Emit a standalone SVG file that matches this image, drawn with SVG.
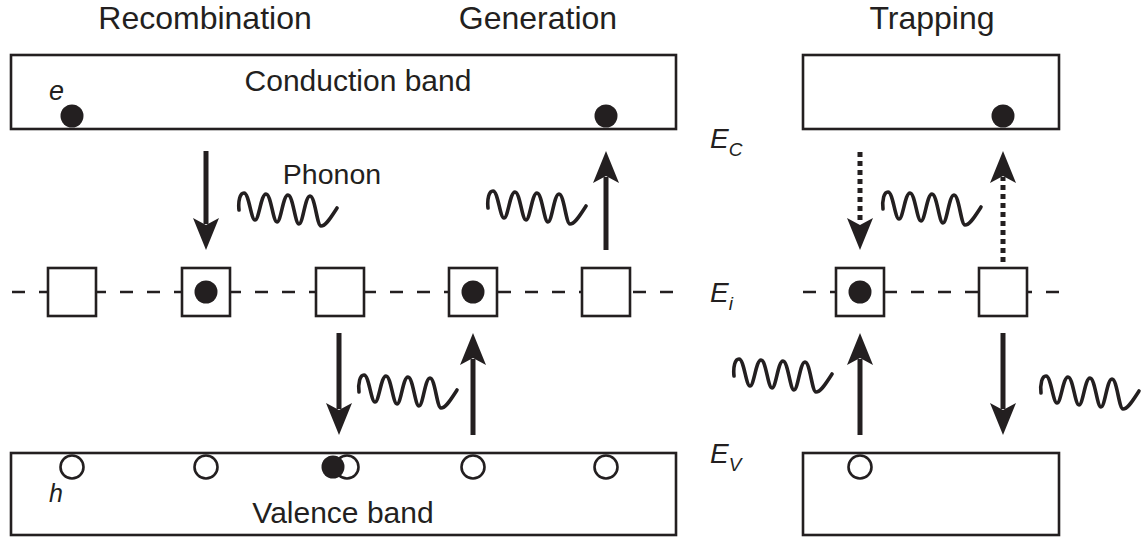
<svg xmlns="http://www.w3.org/2000/svg" width="1148" height="538" viewBox="0 0 1148 538">
  <style>
    .band { fill: #ffffff; stroke: #231f20; stroke-width: 2.6; }
    .level { fill: none; stroke: #231f20; stroke-width: 2.4; stroke-dasharray: 13 14; }
    .trap { fill: #ffffff; stroke: #231f20; stroke-width: 2.6; }
    .el { fill: #231f20; }
    .hole { fill: #ffffff; stroke: #231f20; stroke-width: 2.6; }
    .arrow { stroke: #231f20; stroke-width: 5; fill: none; marker-end: url(#head); }
    .dotted { stroke-dasharray: 5 4; }
    .wave { fill: none; stroke: #231f20; stroke-width: 3.6; stroke-linecap: round; stroke-linejoin: round; }
    .title { font-family: "Liberation Sans", Arial, sans-serif; font-size: 32px; fill: #231f20; text-anchor: middle; }
    .label { font-family: "Liberation Sans", Arial, sans-serif; font-size: 30px; fill: #231f20; text-anchor: middle; }
    .small { font-family: "Liberation Sans", Arial, sans-serif; font-size: 28.5px; fill: #231f20; text-anchor: middle; }
    .ital { font-family: "Liberation Sans", Arial, sans-serif; font-style: italic; fill: #231f20; }
  </style>
  <defs>
    <marker id="head" viewBox="0 -14 34 28" refX="6" refY="0" markerWidth="34" markerHeight="28" markerUnits="userSpaceOnUse" orient="auto">
      <path d="M0,-13 L32,0 L0,13 L7,0 Z" fill="#231f20"/>
    </marker>
    <!-- phonon squiggle, about 100 x 35 -->
    <path id="phonon" class="wave" d="M1,18 C0,9 2,1 6,1 C11,1 13,28 17,28 C21,28 23,2 28,2 C33,2 35,30 39,30 C43,30 45,3 50,3 C55,3 57,32 61,32 C65,32 67,4 72,4 C77,4 79,34 83,34 C88,34 93,25 99,16"/>
  </defs>

  <!-- column titles -->
  <g id="titles">
    <text class="title" x="205" y="29">Recombination</text>
    <text class="title" x="538" y="29">Generation</text>
    <text class="title" x="932" y="29">Trapping</text>
  </g>

  <!-- conduction band, left panel -->
  <g id="cb-left">
    <rect class="band" x="11" y="55" width="665" height="74"/>
    <text class="label" x="358" y="91">Conduction band</text>
    <text class="ital" x="49" y="100" font-size="27">e</text>
    <circle class="el" cx="72" cy="116" r="11.5"/>
    <circle class="el" cx="606" cy="116" r="11.5"/>
  </g>

  <!-- conduction band, trapping panel -->
  <g id="cb-right">
    <rect class="band" x="803" y="55" width="256" height="74"/>
    <circle class="el" cx="1003" cy="116" r="11.5"/>
  </g>

  <!-- valence band, left panel -->
  <g id="vb-left">
    <rect class="band" x="11" y="453" width="665" height="82"/>
    <text class="label" x="343" y="523">Valence band</text>
    <text class="ital" x="49" y="502" font-size="25">h</text>
    <circle class="hole" cx="72" cy="467" r="11.5"/>
    <circle class="hole" cx="206" cy="467" r="11.5"/>
    <circle class="hole" cx="347" cy="467" r="11.5"/>
    <circle class="el" cx="333" cy="467" r="11.5"/>
    <circle class="hole" cx="473" cy="467" r="11.5"/>
    <circle class="hole" cx="606" cy="467" r="11.5"/>
  </g>

  <!-- valence band, trapping panel -->
  <g id="vb-right">
    <rect class="band" x="803" y="453" width="256" height="82"/>
    <circle class="hole" cx="860" cy="467" r="11.5"/>
  </g>

  <!-- intrinsic level -->
  <g id="ei-level">
    <line class="level" x1="12" y1="292" x2="676" y2="292"/>
    <line class="level" x1="803" y1="292" x2="1059" y2="292"/>
  </g>

  <!-- trap states -->
  <g id="trap-1"><rect class="trap" x="48" y="268" width="48" height="48"/></g>
  <g id="trap-2"><rect class="trap" x="182" y="268" width="48" height="48"/><circle class="el" cx="206" cy="292" r="11.5"/></g>
  <g id="trap-3"><rect class="trap" x="316" y="268" width="48" height="48"/></g>
  <g id="trap-4"><rect class="trap" x="449" y="268" width="48" height="48"/><circle class="el" cx="473" cy="292" r="11.5"/></g>
  <g id="trap-5"><rect class="trap" x="582" y="268" width="48" height="48"/></g>
  <g id="trap-6"><rect class="trap" x="836" y="268" width="48" height="48"/><circle class="el" cx="860" cy="292" r="11.5"/></g>
  <g id="trap-7"><rect class="trap" x="979" y="268" width="48" height="48"/></g>

  <!-- energy labels -->
  <g id="energy-labels">
    <text class="ital" x="710" y="148" font-size="28">E<tspan font-size="19" dy="8">C</tspan></text>
    <text class="ital" x="710" y="302" font-size="28">E<tspan font-size="19" dy="8">i</tspan></text>
    <text class="ital" x="710" y="463" font-size="28">E<tspan font-size="19" dy="8">V</tspan></text>
  </g>

  <!-- phonons -->
  <g id="phonons">
    <text class="small" x="332" y="184">Phonon</text>
    <use href="#phonon" x="238" y="192"/>
    <use href="#phonon" x="358" y="374"/>
    <use href="#phonon" x="487" y="190"/>
    <use href="#phonon" x="882" y="191"/>
    <use href="#phonon" x="733" y="358"/>
    <use href="#phonon" x="1040" y="375"/>
  </g>

  <!-- transitions -->
  <g id="connectors">
    <line class="arrow" x1="206" y1="151" x2="206" y2="224"/>
    <line class="arrow" x1="339" y1="333" x2="339" y2="409"/>
    <line class="arrow" x1="473" y1="435" x2="473" y2="359"/>
    <line class="arrow" x1="606" y1="250" x2="606" y2="177"/>
    <line class="arrow dotted" x1="860" y1="152" x2="860" y2="224"/>
    <line class="arrow dotted" x1="1003" y1="262" x2="1003" y2="177"/>
    <line class="arrow" x1="860" y1="435" x2="860" y2="359"/>
    <line class="arrow" x1="1003" y1="333" x2="1003" y2="409"/>
  </g>
</svg>
